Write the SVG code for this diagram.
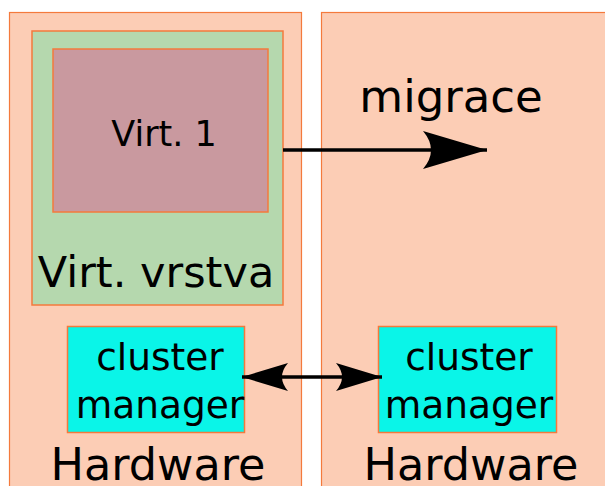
<svg xmlns="http://www.w3.org/2000/svg" width="605" height="486" viewBox="0 0 605 486">
<defs>
<style>
.hw{fill:#fccdb5;stroke:#f47a3c;stroke-width:1.2}
.t{font-family:"DejaVu Sans",sans-serif;fill:#000}
.cm{fill:#0af5e8;stroke:#f47a3c;stroke-width:1.5}
.ln{stroke:#000;stroke-width:3.5;fill:none}
</style>
<marker id="ah" viewBox="0 0 20 12" refX="19" refY="6" markerWidth="20" markerHeight="12" markerUnits="userSpaceOnUse" orient="auto-start-reverse">
<path d="M0,0 L20,6 L0,12 Q5,6 0,0 Z" fill="#000"/>
</marker>
<marker id="ah2" viewBox="0 0 64 38" refX="64" refY="19" markerWidth="64" markerHeight="38" markerUnits="userSpaceOnUse" orient="auto">
<path d="M0,0 L64,19 L0,38 Q16,19 0,0 Z" fill="#000"/>
</marker>
<marker id="ah3" viewBox="0 0 46 28" refX="46" refY="14" markerWidth="46" markerHeight="28" markerUnits="userSpaceOnUse" orient="auto-start-reverse">
<path d="M0,0 L46,14 L0,28 Q12,14 0,0 Z" fill="#000"/>
</marker>
</defs>
<rect width="605" height="486" fill="#fff"/>
<g id="hw1">
<rect class="hw" x="9.5" y="12.5" width="292" height="480"/>
<text class="t" x="158" y="480" font-size="44.5" text-anchor="middle">Hardware</text>
</g>
<g id="hw2">
<rect class="hw" x="321.5" y="12.5" width="300" height="480"/>
<text class="t" x="471" y="480" font-size="44.5" text-anchor="middle">Hardware</text>
</g>
<g id="virt-layer">
<rect x="32" y="31" width="251" height="274" fill="#b5d8ae" stroke="#f47a3c" stroke-width="1.5"/>
<text class="t" x="156" y="287" font-size="43" text-anchor="middle">Virt. vrstva</text>
</g>
<g id="virt1">
<rect x="53" y="49" width="215" height="163" fill="#c9999f" stroke="#f47a3c" stroke-width="1.5"/>
<text class="t" x="164" y="146" font-size="35" text-anchor="middle">Virt. 1</text>
</g>
<g id="cm1">
<rect class="cm" x="67.5" y="326.5" width="177" height="106"/>
<text class="t" x="160" y="370" font-size="37.5" text-anchor="middle">cluster</text>
<text class="t" x="160" y="418" font-size="37.5" text-anchor="middle">manager</text>
</g>
<g id="cm2">
<rect class="cm" x="378.5" y="326.5" width="178" height="106"/>
<text class="t" x="469" y="370" font-size="37.5" text-anchor="middle">cluster</text>
<text class="t" x="469" y="418" font-size="37.5" text-anchor="middle">manager</text>
</g>
<g id="label-migrace">
<text class="t" x="451" y="112" font-size="45" text-anchor="middle">migrace</text>
</g>
<g id="connectors">
<line class="ln" x1="283" y1="150" x2="487" y2="150" marker-end="url(#ah2)"/>
<line class="ln" x1="242" y1="377" x2="382" y2="377" marker-start="url(#ah3)" marker-end="url(#ah3)"/>
</g>
</svg>
